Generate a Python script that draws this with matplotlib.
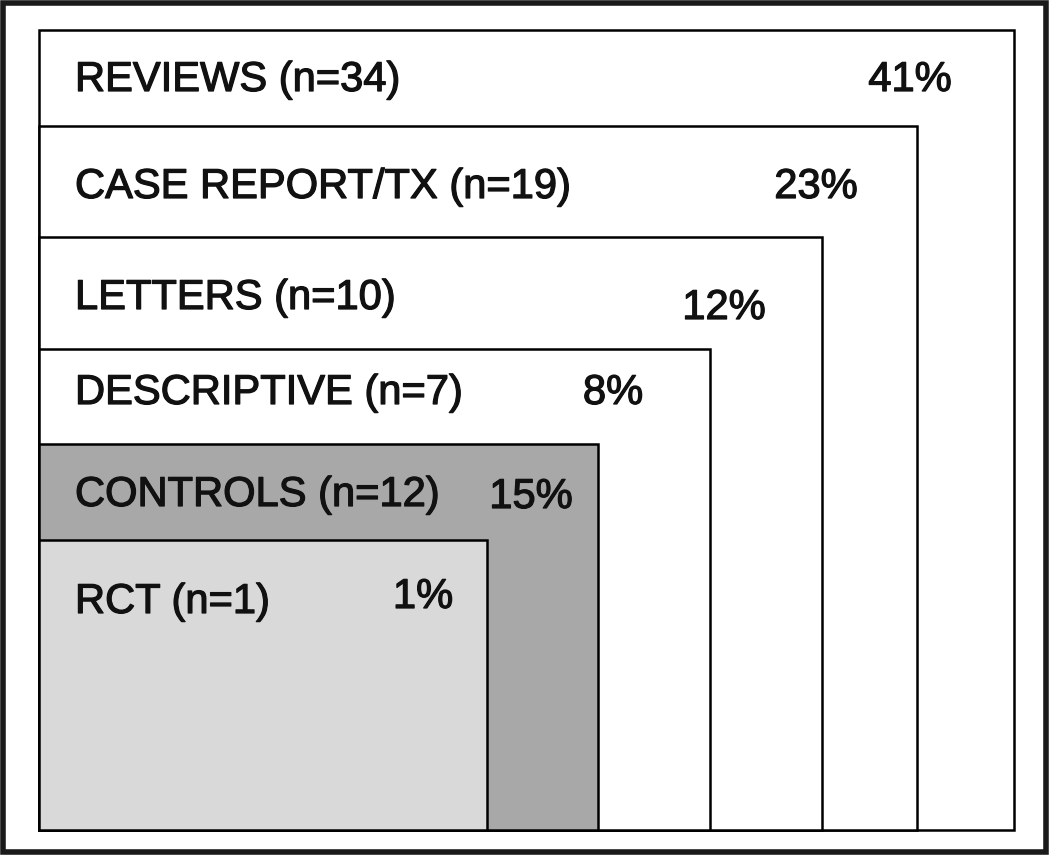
import matplotlib
matplotlib.use("Agg")
from matplotlib import pyplot as plt
from matplotlib.patches import Rectangle
import matplotlib.patheffects as pe

# study types, counts, share of total
labels = ["REVIEWS", "CASE REPORT/TX", "LETTERS", "DESCRIPTIVE", "CONTROLS", "RCT"]
counts = [34, 19, 10, 7, 12, 1]
pcts = [41, 23, 12, 8, 15, 1]
fills = ["white", "white", "white", "white", "#a8a8a8", "#d9d9d9"]

# layout of nested boxes (pixel units, y down)
left, bottom = 39, 830
rights = [1014, 917, 822, 710, 598, 487]
tops = [30, 126, 237, 349, 444, 540]
label_y = [80, 187, 298, 393, 495, 602]
pct_xy = [(910, 80), (816, 187), (724, 308), (613, 393), (531, 497), (423, 597)]

plt.rcParams['font.family'] = ['Liberation Sans', 'DejaVu Sans']

fig = plt.figure(figsize=(10.5, 8.57), dpi=100)
ax = fig.add_axes([0, 0, 1, 1])
ax.set_xlim(0, 1050)
ax.set_ylim(857, 0)
ax.axis('off')

# outer frame
ax.add_patch(Rectangle((3, 3), 1043, 849, fill=False, edgecolor='#1a1a1a', lw=4))

# slightly heavier strokes, like the printed original
heavy = [pe.withStroke(linewidth=0.9, foreground='#111111')]

for i in range(len(labels)):
    ax.add_patch(Rectangle((left, tops[i]), rights[i] - left, bottom - tops[i],
                           facecolor=fills[i], edgecolor='black', lw=1.8, zorder=i + 1))
    ax.text(75, label_y[i], '{0} (n={1})'.format(labels[i], counts[i]),
            fontsize=30, ha='left', va='center', color='#111111', zorder=10,
            path_effects=heavy)
    ax.text(pct_xy[i][0], pct_xy[i][1], '{0}%'.format(pcts[i]),
            fontsize=30, ha='center', va='center', color='#111111', zorder=10,
            path_effects=heavy)

fig.savefig('out.png', dpi=100)
